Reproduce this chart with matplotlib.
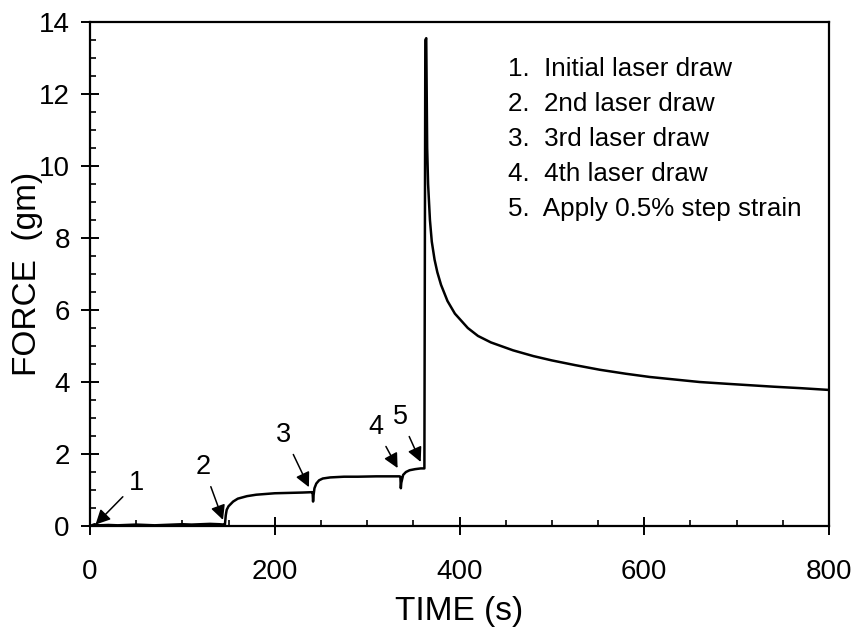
import matplotlib
matplotlib.use("Agg")
import matplotlib.pyplot as plt
from matplotlib.ticker import MultipleLocator

plt.rcParams['font.family'] = ['Liberation Sans', 'DejaVu Sans']

# force trace (time in s, force in gm)
time_s = [0, 5, 10, 20, 30, 40, 50, 60, 70, 80, 90, 100, 110, 120, 130, 140, 145,
          146, 147, 148, 150, 155, 160, 170, 180, 190, 200, 215, 230, 240,
          241, 241.5, 242, 243, 245, 248, 252, 260, 275, 290, 310, 325, 335,
          336, 336.5, 337, 339, 342, 346, 352, 358, 362,
          363, 364, 365, 366, 368, 370, 373, 376, 380, 387, 395, 409, 420, 434,
          458, 480, 500, 525, 552, 580, 606, 633, 660, 690, 715, 740, 769, 800]
force_gm = [0.0, 0.05, 0.02, 0.03, 0.02, 0.03, 0.04, 0.03, 0.02, 0.03, 0.04, 0.05, 0.04, 0.05, 0.06, 0.05, 0.04,
            0.02, 0.3, 0.45, 0.55, 0.68, 0.76, 0.83, 0.87, 0.89, 0.91, 0.92, 0.93, 0.94,
            0.93, 0.68, 0.85, 1.05, 1.18, 1.27, 1.32, 1.35, 1.37, 1.37, 1.38, 1.38, 1.38,
            1.37, 1.05, 1.2, 1.42, 1.5, 1.55, 1.58, 1.6, 1.6,
            13.5, 13.55, 10.5, 9.5, 8.5, 7.9, 7.4, 7.05, 6.7, 6.25, 5.9, 5.5, 5.28, 5.1,
            4.88, 4.72, 4.6, 4.47, 4.34, 4.23, 4.14, 4.07, 4.0, 3.95, 3.91, 3.87, 3.83, 3.78]

# numbered arrows: label, text position, arrow tip
marker_labels = ['1', '2', '3', '4', '5']
marker_text_xy = [(50, 1.19), (123, 1.64), (210, 2.53), (309, 2.75), (336, 3.03)]
marker_tip_xy = [(6, 0.04), (144, 0.17), (237, 1.08), (333, 1.61), (358, 1.78)]

legend_lines = ['1.  Initial laser draw',
                '2.  2nd laser draw',
                '3.  3rd laser draw',
                '4.  4th laser draw',
                '5.  Apply 0.5% step strain']

fig = plt.figure(figsize=(8.56, 6.34), dpi=100)
ax = fig.add_axes([0.1051, 0.1703, 0.8634, 0.795])

ax.plot(time_s, force_gm, color='black', linewidth=1.8)

for lab, txy, tip in zip(marker_labels, marker_text_xy, marker_tip_xy):
    ax.annotate(lab, xy=tip, xytext=txy, fontsize=19.5, ha='center', va='center',
                arrowprops=dict(arrowstyle='-|>', color='black', lw=1.1,
                                mutation_scale=22, shrinkA=3, shrinkB=0))

# key text sits inside the axes, no frame
for i, line in enumerate(legend_lines):
    ax.text(0.566, 0.893 - i * 0.0694, line, transform=ax.transAxes,
            fontsize=18.7, ha='left', va='baseline')

ax.set_xlim(0, 800)
ax.set_ylim(0, 14)
ax.xaxis.set_major_locator(MultipleLocator(200))
ax.xaxis.set_minor_locator(MultipleLocator(50))
ax.yaxis.set_major_locator(MultipleLocator(2))
ax.yaxis.set_minor_locator(MultipleLocator(0.5))

ax.tick_params(which='major', direction='inout', length=13, width=1.4, labelsize=20)
ax.tick_params(axis='y', which='major', pad=8)
ax.tick_params(axis='x', which='major', pad=17)
ax.tick_params(which='minor', direction='in', length=4.5, width=1.2)
ax.tick_params(top=False, right=False, which='both')
for side in ['top', 'bottom', 'left', 'right']:
    ax.spines[side].set_linewidth(1.6)

ax.set_xlabel('TIME (s)', fontsize=24)
ax.set_ylabel('FORCE  (gm)', fontsize=24)
ax.xaxis.set_label_coords(0.5, -0.138)
ax.yaxis.set_label_coords(-0.064, 0.5)

fig.savefig('out.png', dpi=100)
